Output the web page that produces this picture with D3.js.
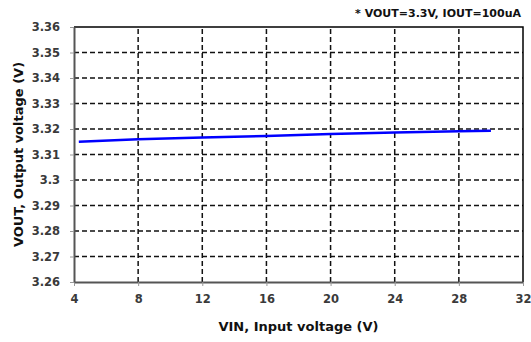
<!DOCTYPE html>
<html>
<head>
<meta charset="utf-8">
<script src="https://cdn.jsdelivr.net/npm/d3@7"></script>
<style>
  body { margin: 0; background: #fff; }
  text { font-family: "DejaVu Sans", Verdana, sans-serif; font-weight: bold; }
</style>
</head>
<body>
<div id="chart"></div>
<script>
const vin = [4.3, 8, 12, 16, 20, 24, 28, 30];
const vout = [3.315, 3.316, 3.3167, 3.3173, 3.318, 3.3186, 3.3191, 3.3193];
const xTicks = [4, 8, 12, 16, 20, 24, 28, 32];
const yTicks = [3.26, 3.27, 3.28, 3.29, 3.3, 3.31, 3.32, 3.33, 3.34, 3.35, 3.36];

const width = 531, height = 342;
const margin = { top: 27, right: 8, bottom: 60, left: 74 };

let svg = d3
  .select("#chart")
  .append("svg")
  .attr("width", width)
  .attr("height", height);

let x = d3.scaleLinear().domain([4, 32]).range([margin.left, width - margin.right]);
let y = d3.scaleLinear().domain([3.26, 3.36]).range([height - margin.bottom, margin.top]);

// grid
svg.append("g")
  .selectAll("line")
  .data(yTicks.slice(1, -1))
  .join("line")
  .attr("x1", x(4)).attr("x2", x(32))
  .attr("y1", d => y(d)).attr("y2", d => y(d))
  .attr("stroke", "#111")
  .attr("stroke-width", 1.5)
  .attr("stroke-dasharray", "5,3");

svg.append("g")
  .selectAll("line")
  .data(xTicks.slice(1, -1))
  .join("line")
  .attr("x1", d => x(d)).attr("x2", d => x(d))
  .attr("y1", y(3.26)).attr("y2", y(3.36))
  .attr("stroke", "#111")
  .attr("stroke-width", 1.5)
  .attr("stroke-dasharray", "5,3");

// frame: top and right black
svg.append("path")
  .attr("d", `M${x(4)},${y(3.36)}H${x(32)}V${y(3.26)}`)
  .attr("fill", "none")
  .attr("stroke", "#000")
  .attr("stroke-width", 1.5);

// axes
let xAxis = svg.append("g")
  .attr("transform", `translate(0,${y(3.26)})`)
  .call(d3.axisBottom(x).tickValues(xTicks).tickSize(4).tickSizeOuter(0).tickPadding(9));

let yAxis = svg.append("g")
  .attr("transform", `translate(${x(4)},0)`)
  .call(d3.axisLeft(y).tickValues(yTicks).tickFormat(d3.format("")).tickSize(4).tickSizeOuter(0).tickPadding(10));

[xAxis, yAxis].forEach(a => {
  a.select(".domain").attr("stroke", "#555").attr("stroke-width", 2);
  a.selectAll(".tick line").attr("stroke", "#999").attr("stroke-width", 1);
  a.selectAll(".tick text")
    .attr("fill", "#3a3a3a")
    .style("font-size", "11.5px")
    .style("font-family", "'DejaVu Sans', Verdana, sans-serif")
    .style("font-weight", "bold");
});

// data line
let line = d3.line().x((d, i) => x(vin[i])).y(d => y(d));
svg.append("path")
  .datum(vout)
  .attr("d", line)
  .attr("fill", "none")
  .attr("stroke", "#0000ff")
  .attr("stroke-width", 2.5);

// titles
svg.append("text")
  .attr("x", (x(4) + x(32)) / 2)
  .attr("y", 331)
  .attr("text-anchor", "middle")
  .attr("fill", "#111")
  .style("font-size", "13px")
  .text("VIN, Input voltage (V)");

svg.append("text")
  .attr("transform", `translate(23,${(y(3.26) + y(3.36)) / 2}) rotate(-90)`)
  .attr("text-anchor", "middle")
  .attr("fill", "#111")
  .style("font-size", "13px")
  .text("VOUT, Output voltage (V)");

svg.append("text")
  .attr("x", 521)
  .attr("y", 17)
  .attr("text-anchor", "end")
  .attr("fill", "#111")
  .style("font-size", "11px")
  .text("* VOUT=3.3V, IOUT=100uA");
</script>
</body>
</html>
